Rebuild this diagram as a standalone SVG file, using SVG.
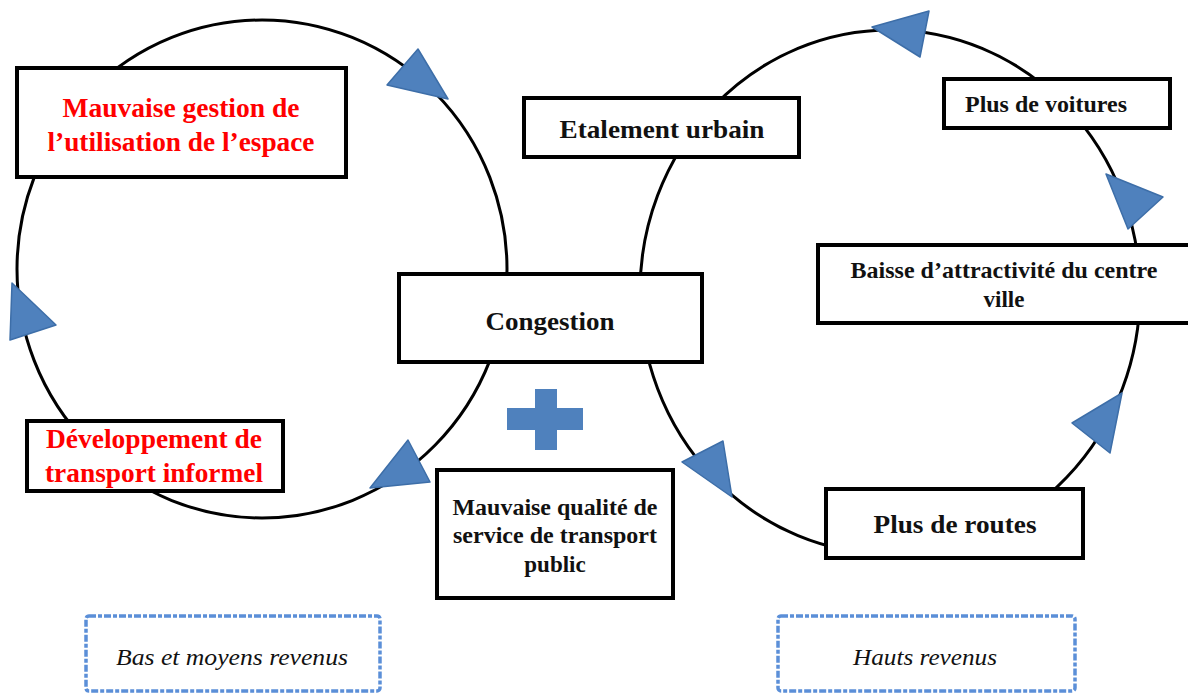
<svg xmlns="http://www.w3.org/2000/svg" width="1188" height="698" viewBox="0 0 1188 698">
<style>
.loop{fill:none;stroke:#000;stroke-width:3}
.box{fill:#fff;stroke:#000;stroke-width:4}
.t{font-weight:bold;fill:#111;text-anchor:middle}
.r{fill:#ff0000}
.arr{fill:#4f81bd;stroke:#3d6ea8;stroke-width:1.5;stroke-linejoin:round}
.dash{fill:#fff;stroke:#5b8fd8;stroke-width:3.5;stroke-dasharray:7 2 4 2}
.it{font-style:italic;fill:#111;text-anchor:middle;font-size:24px}
</style>
<rect width="1188" height="698" fill="#fff"/>
<g id="connectors">
<ellipse class="loop" cx="262" cy="269" rx="245" ry="249"/>
<ellipse class="loop" cx="890" cy="292" rx="250" ry="262"/>
</g>
<g font-family="'Liberation Serif','Times New Roman','DejaVu Serif',serif">
<g id="n-gestion">
<rect class="box" x="17" y="68" width="329" height="109"/>
<text class="t r" x="181" y="117" font-size="27" textLength="237" lengthAdjust="spacingAndGlyphs">Mauvaise gestion de</text>
<text class="t r" x="181" y="151" font-size="27" textLength="267" lengthAdjust="spacingAndGlyphs">l’utilisation de l’espace</text>
</g>
<g id="n-etalement">
<rect class="box" x="524" y="98" width="275" height="59"/>
<text class="t" x="662" y="138" font-size="26" textLength="205" lengthAdjust="spacingAndGlyphs">Etalement urbain</text>
</g>
<g id="n-voitures">
<rect class="box" x="944" y="79" width="226" height="49"/>
<text class="t" x="1046" y="112" font-size="23" textLength="162" lengthAdjust="spacingAndGlyphs">Plus de voitures</text>
</g>
<g id="n-baisse">
<rect class="box" x="818" y="245" width="372" height="78"/>
<text class="t" x="1004" y="278" font-size="23" textLength="307" lengthAdjust="spacingAndGlyphs">Baisse d’attractivité du centre</text>
<text class="t" x="1004" y="307" font-size="23">ville</text>
</g>
<g id="n-congestion">
<rect class="box" x="399" y="274" width="303" height="88"/>
<text class="t" x="550" y="330" font-size="26" textLength="129" lengthAdjust="spacingAndGlyphs">Congestion</text>
</g>
<g id="n-qualite">
<rect class="box" x="437" y="470" width="236" height="128"/>
<text class="t" x="555" y="515" font-size="23" textLength="205" lengthAdjust="spacingAndGlyphs">Mauvaise qualité de</text>
<text class="t" x="555" y="543" font-size="23" textLength="204" lengthAdjust="spacingAndGlyphs">service de transport</text>
<text class="t" x="555" y="572" font-size="23">public</text>
</g>
<g id="n-informel">
<rect class="box" x="27" y="421" width="256" height="70"/>
<text class="t r" x="154" y="448" font-size="27" textLength="216" lengthAdjust="spacingAndGlyphs">Développement de</text>
<text class="t r" x="154" y="482" font-size="27" textLength="218" lengthAdjust="spacingAndGlyphs">transport informel</text>
</g>
<g id="n-routes">
<rect class="box" x="826" y="489" width="257" height="69"/>
<text class="t" x="955" y="533" font-size="26" textLength="163" lengthAdjust="spacingAndGlyphs">Plus de routes</text>
</g>
</g>
<g id="arrows">
<polygon class="arr" points="387,85 418,49 448,99"/>
<polygon class="arr" points="12,283 56,325 10,340"/>
<polygon class="arr" points="370,488 408,440 430,482"/>
<polygon class="arr" points="872,27 929,11 920,57"/>
<polygon class="arr" points="1106,174 1163,197 1128,229"/>
<polygon class="arr" points="1072,423 1122,393 1110,453"/>
<polygon class="arr" points="682,462 723,441 732,497"/>
</g>
<g id="plus" fill="#4f81bd">
<rect x="507" y="408" width="76" height="22"/>
<rect x="535" y="389" width="22" height="61"/>
</g>
<g font-family="'Liberation Serif','Times New Roman','DejaVu Serif',serif">
<g id="n-bas">
<rect class="dash" x="86" y="616" width="294" height="75" rx="3"/>
<text class="it" x="232" y="665" textLength="232" lengthAdjust="spacingAndGlyphs">Bas  et moyens revenus</text>
</g>
<g id="n-hauts">
<rect class="dash" x="778" y="616" width="297" height="75" rx="3"/>
<text class="it" x="925" y="665" textLength="144" lengthAdjust="spacingAndGlyphs">Hauts revenus</text>
</g>
</g>
</svg>
